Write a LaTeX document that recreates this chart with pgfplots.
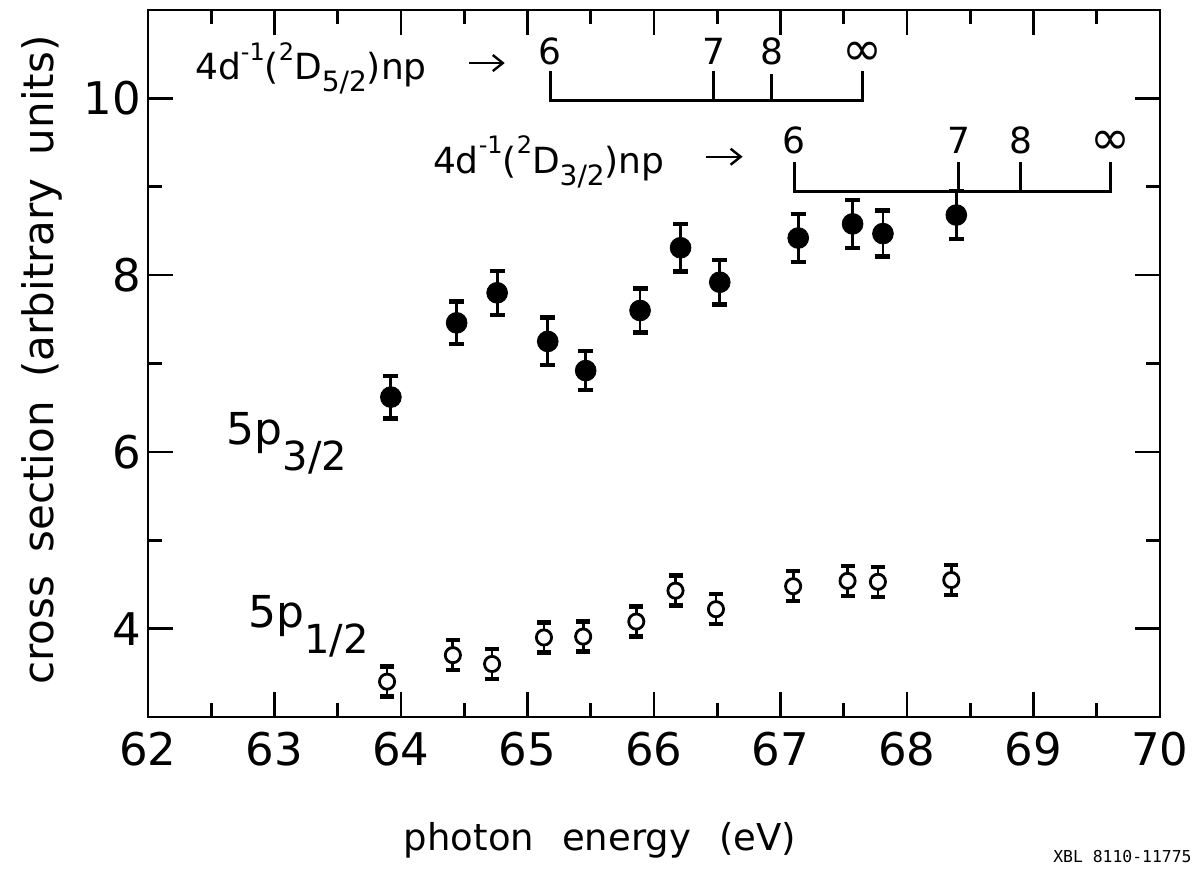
\documentclass[border=0pt]{standalone}
\usepackage{fontspec}
\setmainfont{DejaVu Sans}
\newfontfamily\monofont{DejaVu Sans Mono}
\usepackage{pgfplots}
\usepackage{pgfplotstable}
\pgfplotsset{compat=1.18}
\usetikzlibrary{arrows.meta}

\pgfplotstableread{
x y e
63.92 6.62 0.24
64.44 7.46 0.24
64.76 7.80 0.25
65.16 7.25 0.27
65.46 6.92 0.22
65.89 7.60 0.25
66.21 8.31 0.27
66.52 7.92 0.25
67.14 8.42 0.27
67.57 8.58 0.27
67.81 8.47 0.26
68.39 8.68 0.27
}\filled

\pgfplotstableread{
x y e
63.89 3.40 0.17
64.41 3.70 0.17
64.72 3.60 0.17
65.13 3.90 0.17
65.44 3.91 0.17
65.86 4.08 0.17
66.17 4.43 0.17
66.49 4.22 0.17
67.10 4.48 0.17
67.53 4.54 0.17
67.77 4.53 0.17
68.35 4.55 0.17
}\opendata

\newcommand{\annfont}{\fontsize{18}{20}\selectfont}
\newcommand{\inffont}{\fontsize{24}{26}\selectfont}
\newcommand{\sups}[1]{\raisebox{0.55em}{\fontsize{12}{13}\selectfont #1}}
\newcommand{\subs}[1]{\raisebox{-0.32em}{\fontsize{14}{15}\selectfont #1}}
\newcommand{\lab}[2]{{\fontsize{22}{24}\selectfont #1\raisebox{-13pt}{\fontsize{20}{22}\selectfont #2}}}

\begin{document}
\begin{tikzpicture}
\path[use as bounding box] (-74pt,-76pt) rectangle (525.5pt,358.5pt);
\begin{axis}[
  scale only axis,
  width=506pt, height=353.5pt,
  xmin=62, xmax=70, ymin=3, ymax=11,
  xtick={62,...,70}, ytick={4,6,8,10},
  minor x tick num=1, minor y tick num=1,
  major tick length=12.5pt, minor tick length=7pt,
  tick align=inside,
  axis line style={line width=1.4pt},
  every tick/.style={black, line width=1.3pt},
  /pgf/number format/assume math mode=true,
  tick label style={font=\fontsize{22.5}{24}\selectfont},
  xticklabel style={yshift=-4pt},
  clip=false,
]
\addplot[only marks, black, mark=*, mark size=5.2pt,
  error bars/.cd, y dir=both, y explicit,
  error bar style={line width=1.4pt},
  error mark options={rotate=90, mark size=3.75pt, line width=2.2pt}]
  table[x=x, y=y, y error=e] {\filled};
\addplot[only marks, black, mark=*, mark size=3.8pt,
  mark options={fill=white, line width=1.4pt},
  error bars/.cd, y dir=both, y explicit,
  error bar style={line width=1.4pt},
  error mark options={rotate=90, mark size=3.5pt, line width=2.2pt}]
  table[x=x, y=y, y error=e] {\opendata};

% series labels
\node[anchor=base west, inner sep=0pt] at (axis cs:62.62,6.08) {\lab{5p}{3/2}};
\node[anchor=base west, inner sep=0pt] at (axis cs:62.79,4.01) {\lab{5p}{1/2}};

% Rydberg series annotations
\node[anchor=base west, inner sep=0pt, font=\annfont] at (axis cs:62.37,10.21) {4d\sups{-1}(\sups{2}D\subs{5/2})np};
\draw[line width=1.2pt, -{Straight Barb[length=5pt,width=8pt]}] (axis cs:64.54,10.40) -- (axis cs:64.82,10.40);
\draw[line width=1.4pt] (axis cs:65.18,10.31) -- (axis cs:65.18,9.98) -- (axis cs:67.65,9.98) -- (axis cs:67.65,10.31);
\draw[line width=1.4pt] (axis cs:66.47,9.98) -- (axis cs:66.47,10.31);
\draw[line width=1.4pt] (axis cs:66.93,9.98) -- (axis cs:66.93,10.28);
\node[font=\annfont] at (axis cs:65.18,10.53) {6};
\node[font=\annfont] at (axis cs:66.47,10.53) {7};
\node[font=\annfont] at (axis cs:66.93,10.53) {8};
\node[font=\inffont] at (axis cs:67.65,10.50) {∞};

\node[anchor=base west, inner sep=0pt, font=\annfont] at (axis cs:64.25,9.15) {4d\sups{-1}(\sups{2}D\subs{3/2})np};
\draw[line width=1.2pt, -{Straight Barb[length=5pt,width=8pt]}] (axis cs:66.41,9.34) -- (axis cs:66.70,9.34);
\draw[line width=1.4pt] (axis cs:67.11,9.28) -- (axis cs:67.11,8.95) -- (axis cs:69.61,8.95) -- (axis cs:69.61,9.28);
\draw[line width=1.4pt] (axis cs:68.41,8.95) -- (axis cs:68.41,9.28);
\draw[line width=1.4pt] (axis cs:68.90,8.95) -- (axis cs:68.90,9.28);
\node[font=\annfont] at (axis cs:67.11,9.53) {6};
\node[font=\annfont] at (axis cs:68.41,9.53) {7};
\node[font=\annfont] at (axis cs:68.90,9.53) {8};
\node[font=\inffont] at (axis cs:69.61,9.50) {∞};

% axis labels
\node[anchor=base, inner sep=0pt, font=\fontsize{18.5}{20}\selectfont] at ([yshift=-66.5pt]rel axis cs:0.4466,0) {photon\hspace{14pt}energy\hspace{14pt}(eV)};
\node[rotate=90, inner sep=0pt, font=\fontsize{21}{23}\selectfont] at ([xshift=-53pt]rel axis cs:0,0.505) {cross\hspace{5pt} section\hspace{5pt} (arbitrary\hspace{5pt} units)};
\node[anchor=base east, inner sep=0pt, font=\monofont\fontsize{8.2}{9}\selectfont] at ([xshift=16pt, yshift=-72.5pt]rel axis cs:1,0) {XBL 8110-11775};
\end{axis}
\end{tikzpicture}
\end{document}
